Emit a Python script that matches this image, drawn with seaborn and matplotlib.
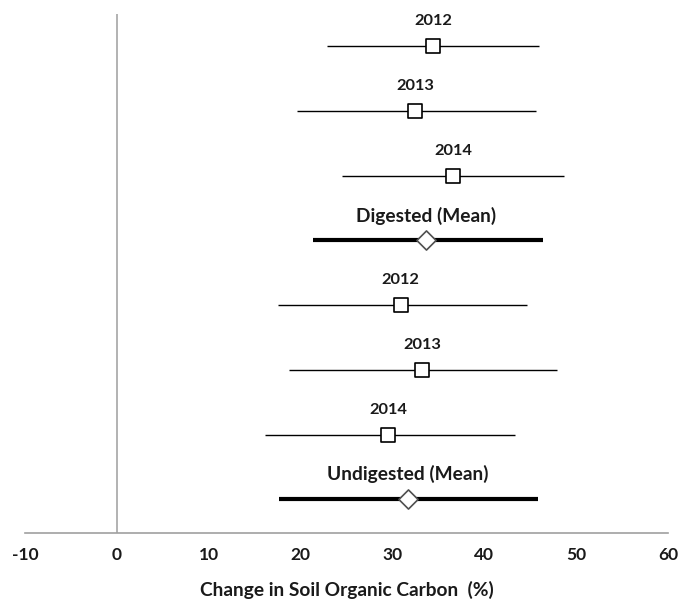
import matplotlib
matplotlib.use("Agg")
import matplotlib.pyplot as plt
import seaborn as sns
import pandas as pd

labels = ["2012", "2013", "2014", "Digested (Mean)", "2012", "2013", "2014", "Undigested (Mean)"]
kinds = ["year", "year", "year", "mean", "year", "year", "year", "mean"]
means = [34.4, 32.5, 36.6, 33.7, 30.9, 33.2, 29.5, 31.7]
lows = [22.9, 19.6, 24.5, 21.4, 17.5, 18.7, 16.1, 17.6]
highs = [46.0, 45.6, 48.7, 46.4, 44.6, 47.9, 43.3, 45.8]
xticks = [-10, 0, 10, 20, 30, 40, 50, 60]

df = pd.DataFrame({"label": labels, "kind": kinds, "mean": means,
                   "low": lows, "high": highs, "pos": range(1, len(labels) + 1)})

sns.set_style("white")
plt.rcParams["font.family"] = ["Lato", "DejaVu Sans"]

fig = plt.figure(figsize=(6.79, 5.99), dpi=100)
ax = fig.add_axes([25/679, 1 - 533/599, (668 - 25)/679, (533 - 14)/599])

axis_gray = "#a0a0a0"
ax.axvline(0, color="#a6a6a6", lw=1.2, zorder=1)

for _, r in df.iterrows():
    lw = 3.0 if r["kind"] == "mean" else 1.0
    ax.hlines(r["pos"], r["low"], r["high"], color="black", lw=lw, zorder=2)

yr = df[df["kind"] == "year"]
mn = df[df["kind"] == "mean"]
sns.scatterplot(data=yr, x="mean", y="pos", marker="s", s=95, color="white",
                edgecolor="black", linewidth=1.2, ax=ax, zorder=3, legend=False)
sns.scatterplot(data=mn, x="mean", y="pos", marker="D", s=95, color="white",
                edgecolor="#505050", linewidth=1.2, ax=ax, zorder=3, legend=False)

for _, r in df.iterrows():
    ax.annotate(r["label"], (r["mean"], r["pos"]), xytext=(0, 25),
                textcoords="offset pixels", ha="center", va="center",
                fontsize=11.8 if r["kind"] == "year" else 13.8, fontweight="bold",
                color="#1a1a1a")

ax.set_xlim(-10, 60)
ax.set_ylim(8.52, 0.5)
ax.set_xticks(xticks)
ax.set_xticklabels([str(t) for t in xticks], fontweight="bold", fontsize=12.5)
ax.set_yticks([])
for s in ["left", "right", "top"]:
    ax.spines[s].set_visible(False)
ax.spines["bottom"].set_color(axis_gray)
ax.spines["bottom"].set_linewidth(1.2)
ax.tick_params(axis="x", direction="out", length=6, width=1.2, color=axis_gray,
               pad=4, labelcolor="#1a1a1a")
ax.set_xlabel("Change in Soil Organic Carbon  (%)", fontsize=13.8, fontweight="bold",
              color="#1a1a1a", labelpad=13)
ax.set_ylabel("")

fig.savefig("out.png", dpi=100)
